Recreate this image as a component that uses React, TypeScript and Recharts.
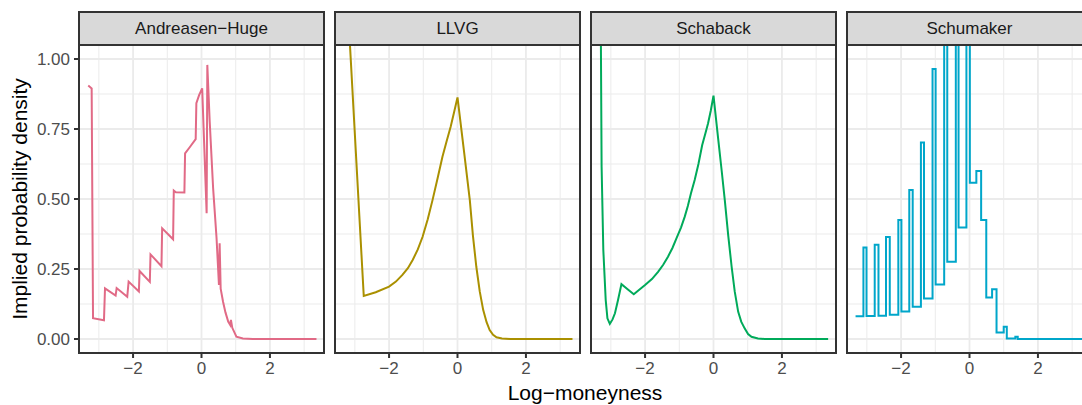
import { LineChart, Line, XAxis, YAxis, CartesianGrid } from 'recharts';

// log-moneyness grid per method
const ahX = [-3.31, -3.21, -3.17, -2.85, -2.82, -2.51, -2.48, -2.17, -2.13, -1.83, -1.81, -1.51, -1.49, -1.17, -1.15, -0.83, -0.81, -0.75, -0.5, -0.48, -0.35, -0.17, -0.15, -0.07, 0.02, 0.15, 0.17, 0.24, 0.34, 0.44, 0.51, 0.53, 0.56, 0.63, 0.7, 0.78, 0.84, 0.86, 0.9, 1.02, 1.21, 1.5, 2.0, 3.36];
const ahY = [0.905, 0.895, 0.074, 0.067, 0.181, 0.155, 0.182, 0.151, 0.205, 0.17, 0.243, 0.204, 0.302, 0.26, 0.395, 0.356, 0.53, 0.524, 0.523, 0.663, 0.684, 0.714, 0.842, 0.871, 0.895, 0.449, 0.979, 0.776, 0.538, 0.36, 0.193, 0.342, 0.18, 0.133, 0.095, 0.062, 0.05, 0.068, 0.04, 0.008, 0.002, 0, 0, 0];

const llvgX = [-3.3, -2.74, -2.39, -2.0, -1.8, -1.61, -1.45, -1.31, -1.16, -1.02, -0.87, -0.73, -0.58, -0.44, -0.32, -0.2, -0.1, 0.0, 0.2, 0.36, 0.45, 0.55, 0.65, 0.75, 0.85, 0.94, 1.04, 1.14, 1.3, 1.53, 2.0, 3.36];
const llvgY = [1.4, 0.154, 0.167, 0.187, 0.205, 0.229, 0.253, 0.282, 0.32, 0.365, 0.428, 0.496, 0.575, 0.651, 0.705, 0.758, 0.81, 0.863, 0.66, 0.496, 0.37, 0.258, 0.17, 0.104, 0.06, 0.032, 0.015, 0.006, 0.002, 0, 0, 0];

const schabackX = [-3.31, -3.29, -3.27, -3.22, -3.15, -3.1, -3.03, -2.95, -2.88, -2.79, -2.69, -2.51, -2.33, -2.17, -2.0, -1.8, -1.62, -1.47, -1.33, -1.2, -1.08, -0.95, -0.84, -0.75, -0.66, -0.55, -0.44, -0.33, -0.24, -0.16, -0.08, 0.0, 0.14, 0.24, 0.33, 0.43, 0.53, 0.62, 0.72, 0.81, 0.91, 1.01, 1.11, 1.3, 1.5, 2.0, 3.35];
const schabackY = [1.5, 1.04, 0.615, 0.318, 0.139, 0.074, 0.054, 0.07, 0.092, 0.139, 0.196, 0.178, 0.16, 0.176, 0.193, 0.214, 0.24, 0.265, 0.294, 0.325, 0.36, 0.398, 0.437, 0.475, 0.52, 0.568, 0.625, 0.693, 0.733, 0.77, 0.815, 0.869, 0.711, 0.6, 0.496, 0.37, 0.258, 0.17, 0.098, 0.062, 0.038, 0.018, 0.008, 0.002, 0, 0, 0];

// piecewise constant, each value holds until the next x
const schumakerX = [-3.33, -3.1, -3.01, -2.77, -2.66, -2.44, -2.33, -2.08, -1.99, -1.76, -1.66, -1.42, -1.33, -1.08, -0.99, -0.74, -0.65, -0.4, -0.32, -0.09, 0.01, 0.2, 0.34, 0.49, 0.66, 0.79, 1.0, 1.09, 1.34, 1.41, 3.35];
const schumakerY = [0.081, 0.327, 0.082, 0.337, 0.083, 0.364, 0.087, 0.425, 0.098, 0.532, 0.115, 0.702, 0.145, 0.964, 0.195, 1.3, 0.276, 1.4, 0.398, 1.3, 0.558, 0.6, 0.425, 0.148, 0.178, 0.023, 0.044, 0.002, 0.008, 0, 0];

const methods = ['Andreasen−Huge', 'LLVG', 'Schaback', 'Schumaker'];
const colors = ['#E16A86', '#AA9000', '#00AA5A', '#00A6CA'];

const xMajor = [-2, 0, 2];
const xMinor = [-3, -1, 1, 3];
const yMajor = [0, 0.25, 0.5, 0.75, 1];
const yMinor = [0.125, 0.375, 0.625, 0.875];

const series = [
  { xs: ahX, ys: ahY, type: 'linear' },
  { xs: llvgX, ys: llvgY, type: 'linear' },
  { xs: schabackX, ys: schabackY, type: 'linear' },
  { xs: schumakerX, ys: schumakerY, type: 'stepAfter' },
];

const PANEL_LEFT = 79;
const PANEL_STEP = 256;
const PANEL_W = 245;
const PANEL_TOP = 45;
const PANEL_H = 308;
const STRIP_TOP = 12.3;

const fmtX = (v: number) => (v < 0 ? '−' + Math.abs(v) : String(v));

function Panel({ idx }: { idx: number }) {
  const left = PANEL_LEFT + idx * PANEL_STEP;
  const showY = idx === 0;
  const yw = showY ? 45 : 0;
  const s = series[idx];
  const rows = s.xs.map((x, i) => ({ x, y: s.ys[i] }));

  return (
    <>
      <div
        style={{
          position: 'absolute',
          left: left - 1,
          top: STRIP_TOP - 1,
          width: PANEL_W + 2,
          height: PANEL_TOP - STRIP_TOP + 2,
          boxSizing: 'border-box',
          border: '2px solid #333333',
          background: '#D9D9D9',
          display: 'flex',
          alignItems: 'center',
          justifyContent: 'center',
          fontSize: 17,
          color: '#1A1A1A',
        }}
      >
        {methods[idx]}
      </div>
      <div style={{ position: 'absolute', left: left - yw, top: PANEL_TOP }}>
        <LineChart width={PANEL_W + yw} height={PANEL_H + 30} margin={{ top: 0, right: 0, bottom: 0, left: 0 }}>
          <CartesianGrid stroke="#EBEBEB" strokeWidth={1} horizontalValues={yMinor} verticalValues={xMinor} />
          <CartesianGrid stroke="#EBEBEB" strokeWidth={1.8} horizontalValues={yMajor} verticalValues={xMajor} />
          <XAxis
            type="number"
            dataKey="x"
            domain={[-3.58, 3.58]}
            allowDataOverflow
            ticks={xMajor}
            interval={0}
            height={30}
            tickSize={5}
            tickMargin={4}
            axisLine={false}
            tickLine={{ stroke: '#333333', strokeWidth: 2 }}
            tick={{ fill: '#4D4D4D', fontSize: 17 }}
            tickFormatter={fmtX}
          />
          <YAxis
            type="number"
            dataKey="y"
            domain={[-0.05, 1.05]}
            allowDataOverflow
            ticks={yMajor}
            interval={0}
            width={yw}
            hide={!showY}
            tickSize={5}
            tickMargin={4}
            axisLine={false}
            tickLine={{ stroke: '#333333', strokeWidth: 2 }}
            tick={{ fill: '#4D4D4D', fontSize: 17 }}
            tickFormatter={(v: number) => v.toFixed(2)}
          />
          <Line
            data={rows}
            dataKey="y"
            type={s.type as any}
            stroke={colors[idx]}
            strokeWidth={2}
            dot={false}
            activeDot={false}
            isAnimationActive={false}
          />
        </LineChart>
      </div>
      <div
        style={{
          position: 'absolute',
          left: left - 1,
          top: PANEL_TOP - 1,
          width: PANEL_W + 2,
          height: PANEL_H + 2,
          boxSizing: 'border-box',
          border: '2px solid #333333',
          pointerEvents: 'none',
        }}
      />
    </>
  );
}

export default function App() {
  return (
    <div
      style={{
        position: 'absolute',
        left: 0,
        top: 0,
        width: 1082,
        height: 405,
        overflow: 'hidden',
        background: '#FFFFFF',
        fontFamily: '"Liberation Sans", Arial, Helvetica, sans-serif',
      }}
    >
      {methods.map((m, i) => (
        <Panel key={m} idx={i} />
      ))}
      <div
        style={{
          position: 'absolute',
          left: 20,
          top: 199,
          transform: 'translate(-50%, -50%) rotate(-90deg)',
          whiteSpace: 'nowrap',
          fontSize: 21,
          color: '#000000',
        }}
      >
        Implied probability density
      </div>
      <div
        style={{
          position: 'absolute',
          left: 585,
          top: 382,
          transform: 'translateX(-50%)',
          whiteSpace: 'nowrap',
          fontSize: 21,
          lineHeight: '21px',
          color: '#000000',
        }}
      >
        Log−moneyness
      </div>
    </div>
  );
}
